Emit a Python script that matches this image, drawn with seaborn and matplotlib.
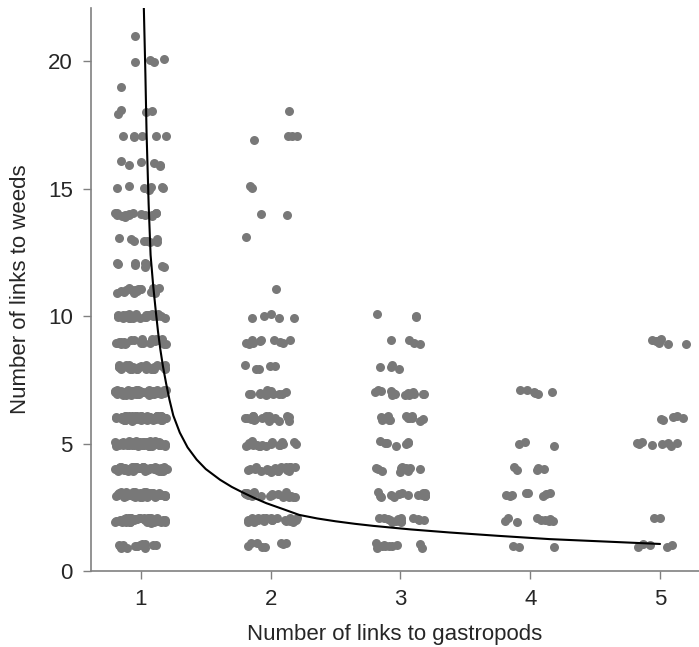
import numpy as np
import pandas as pd
import matplotlib
matplotlib.use("Agg")
import matplotlib.pyplot as plt
import seaborn as sns

# ---- data ----
weed_levels = list(range(1, 22))  # number of links to weeds (1..21)
# counts of observations at each weed level, per gastropod-link value
counts_g1 = [14, 50, 50, 55, 60, 60, 50, 28, 28, 30, 16, 9, 8, 16, 7, 6, 6, 4, 1, 4, 1]
counts_g2 = [8, 22, 20, 24, 20, 20, 12, 5, 10, 5, 1, 0, 1, 2, 2, 0, 4, 1, 0, 0, 0]
counts_g3 = [10, 15, 14, 11, 7, 15, 15, 4, 4, 3, 0, 0, 0, 0, 0, 0, 0, 0, 0, 0, 0]
counts_g4 = [3, 10, 8, 5, 3, 0, 6, 0, 0, 0, 0, 0, 0, 0, 0, 0, 0, 0, 0, 0, 0]
counts_g5 = [5, 2, 0, 0, 8, 5, 0, 0, 7, 0, 0, 0, 0, 0, 0, 0, 0, 0, 0, 0, 0]
gastro_levels = [1, 2, 3, 4, 5]
x_ticks = [1, 2, 3, 4, 5]
y_ticks = [0, 5, 10, 15, 20]

# fitted curve
curve_x = [1.023, 1.035, 1.044, 1.06, 1.075, 1.095, 1.115, 1.133, 1.15, 1.17, 1.195,
           1.22, 1.25, 1.30, 1.36, 1.43, 1.50, 1.61, 1.70, 1.785, 1.88, 1.967, 2.10,
           2.22, 2.36, 2.50, 2.65, 2.79, 3.08, 3.38, 3.75, 4.15, 4.60, 5.00]
curve_y = [22.1, 19.5, 17.2, 14.4, 12.4, 11.2, 10.2, 9.36, 8.7, 8.04, 7.35,
           6.73, 6.1, 5.43, 4.85, 4.37, 4.0, 3.58, 3.3, 3.08, 2.85, 2.66, 2.42,
           2.2, 2.06, 1.95, 1.85, 1.77, 1.63, 1.51, 1.38, 1.25, 1.15, 1.06]

# ---- build long table ----
all_counts = [counts_g1, counts_g2, counts_g3, counts_g4, counts_g5]
gx, wy = [], []
for g, cnts in zip(gastro_levels, all_counts):
    for w, c in zip(weed_levels, cnts):
        gx += [g] * c
        wy += [w] * c
df = pd.DataFrame({"gastropods": gx, "weeds": wy})
# display jitter only
rng = np.random.default_rng(3)
df["xj"] = df["gastropods"] + rng.uniform(-0.2, 0.2, len(df))
df["yj"] = df["weeds"] + rng.uniform(-0.1, 0.1, len(df))
curve = pd.DataFrame({"x": curve_x, "y": curve_y})

sns.set_style("white")
plt.rcParams["font.family"] = ["Liberation Sans", "DejaVu Sans"]

fig = plt.figure(figsize=(6.99, 6.47), dpi=100)
ax = fig.add_axes([0.130, 0.1175, 0.870, 0.8705])

sns.scatterplot(data=df, x="xj", y="yj", ax=ax, color="#787878",
                s=42, linewidth=0, alpha=1.0, legend=False, zorder=2)
sns.lineplot(data=curve, x="x", y="y", ax=ax, color="black", linewidth=1.5,
             sort=False, zorder=3)

ax.set_xlim(0.615, 5.3)
ax.set_ylim(0, 22.1)
ax.set_xticks(x_ticks)
ax.set_yticks(y_ticks)
ax.set_xlabel("Number of links to gastropods", fontsize=16, labelpad=10)
ax.set_ylabel("Number of links to weeds", fontsize=16, labelpad=12)
ax.tick_params(axis="both", labelsize=16, length=6, width=1, color="#808080",
               direction="out", bottom=True, left=True, pad=7)
for side in ["top", "right"]:
    ax.spines[side].set_visible(False)
for side in ["left", "bottom"]:
    ax.spines[side].set_color("#808080")
    ax.spines[side].set_linewidth(1.2)

fig.savefig("out.png", dpi=100)
